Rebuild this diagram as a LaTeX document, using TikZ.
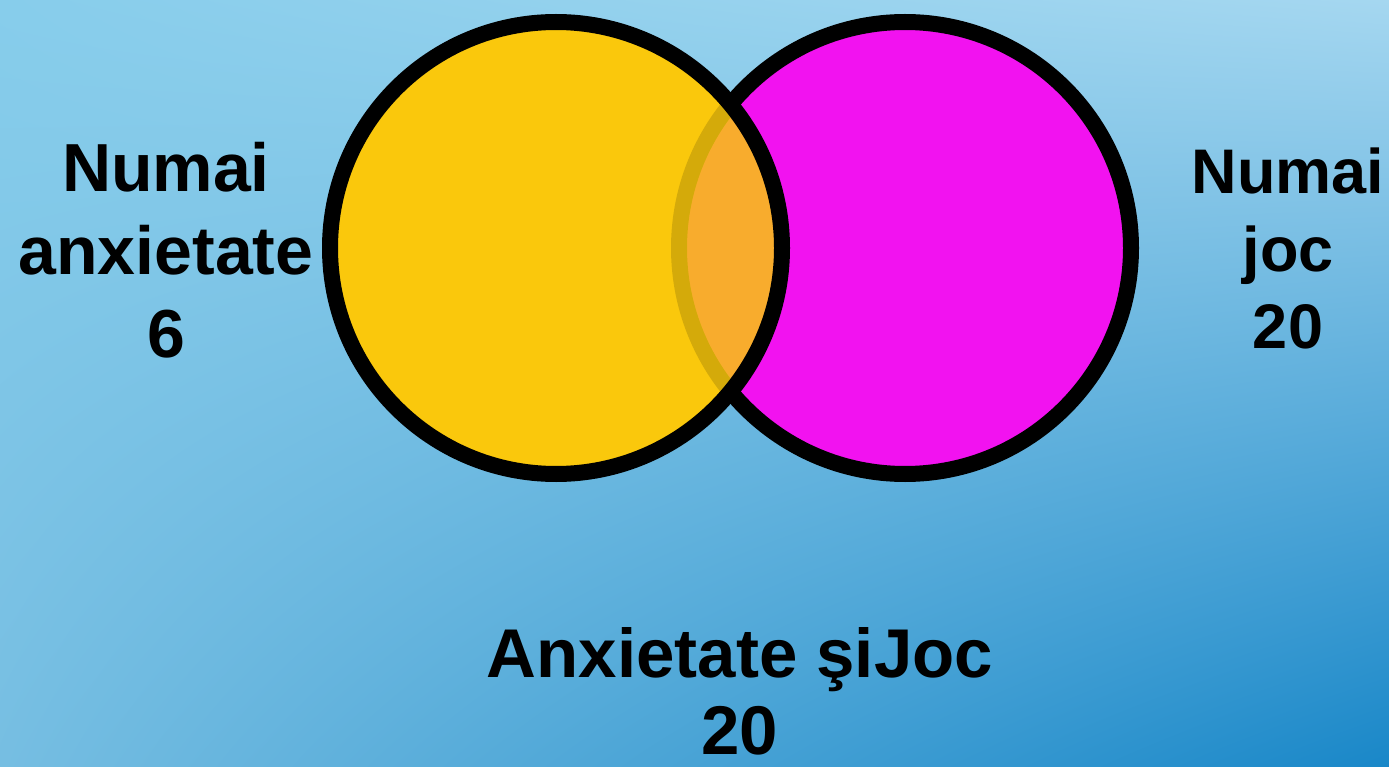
\documentclass[tikz,border=0pt]{standalone}
\usepackage{fontspec}
\usetikzlibrary{shadings}
\setmainfont{Liberation Sans}
\definecolor{anxyellow}{RGB}{250,200,12}
\definecolor{jocmagenta}{RGB}{242,18,240}
\definecolor{bgul}{RGB}{135,205,235}
\definecolor{bgur}{RGB}{165,215,240}
\definecolor{bgll}{RGB}{118,190,226}
\definecolor{bglr}{RGB}{25,135,200}
\begin{document}
\begin{tikzpicture}[x=1pt,y=-1pt]

      \tikzset{vennlabel/.style={align=center, inner sep=0pt, anchor=base},
               setline/.style={draw=black, line width=16pt}}
      \useasboundingbox (0,0) rectangle (1389,767);
% Background
      	\shade[upper left=bgul, upper right=bgur, lower left=bgll, lower right=bglr]
      	       (0,0) rectangle (1389,767);
% Sets
      	\coordinate (anx) at (556,248);
      	\coordinate (joc) at (905,248);
      	\fill[anxyellow] (anx) circle (226pt);
      	\filldraw[fill=jocmagenta, setline] (joc) circle (226pt);
      	\fill[anxyellow, fill opacity=.85] (anx) circle (226pt);
      	\draw[setline] (anx) circle (226pt);
% Labels
      	\node[vennlabel, font=\bfseries\fontsize{68}{83}\selectfont] (onlyanx) at (166,357) {Numai\\anxietate\\6};
      	\node[vennlabel, font=\bfseries\fontsize{63}{77}\selectfont] (onlyjoc) at (1288,348) {Numai\\joc\\20};
      	\node[vennlabel, font=\bfseries\fontsize{69}{77}\selectfont] (both) at (740,754) {Anxietate şiJoc\\20};

\end{tikzpicture}
\end{document}
